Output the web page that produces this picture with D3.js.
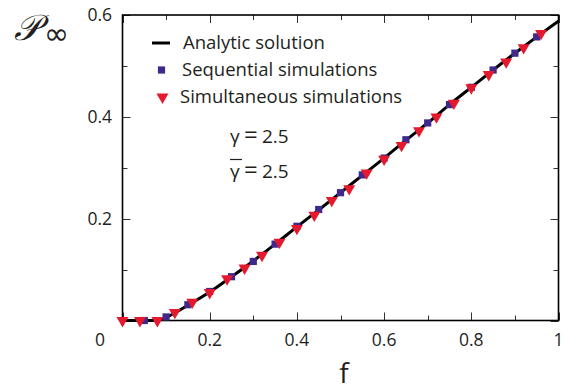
<!DOCTYPE html>
<html>
<head>
<meta charset="utf-8">
<script src="https://cdn.jsdelivr.net/npm/d3@7"></script>
<style>
  html, body { margin: 0; padding: 0; background: #fff; }
  svg { display: block; }
  text { font-family: "Open Sans", "Noto Sans", sans-serif; fill: #231f20; }
</style>
</head>
<body>
<svg id="chart" width="567" height="391"></svg>
<script>
// Analytic solution P_inf(f)
const analyticF = [0, 0.05, 0.08, 0.1, 0.15, 0.2, 0.25, 0.3, 0.35, 0.4, 0.45, 0.5, 0.55, 0.6, 0.65, 0.7, 0.75, 0.8, 0.85, 0.9, 0.95, 1.0];
const analyticP = [0, 0, 0, 0.006, 0.03, 0.056, 0.086, 0.117, 0.15, 0.184, 0.217, 0.251, 0.285, 0.319, 0.354, 0.388, 0.424, 0.458, 0.492, 0.525, 0.557, 0.588];

// Sequential simulations
const seqF = [0.05, 0.1, 0.15, 0.2, 0.25, 0.3, 0.35, 0.4, 0.45, 0.5, 0.55, 0.6, 0.65, 0.7, 0.75, 0.8, 0.85, 0.9, 0.95];
const seqP = [0, 0.007, 0.031, 0.057, 0.086, 0.116, 0.15, 0.185, 0.218, 0.251, 0.286, 0.319, 0.355, 0.388, 0.424, 0.458, 0.492, 0.525, 0.557];

// Simultaneous simulations
const simF = [0, 0.04, 0.08, 0.12, 0.16, 0.2, 0.24, 0.28, 0.32, 0.36, 0.4, 0.44, 0.48, 0.52, 0.56, 0.6, 0.64, 0.68, 0.72, 0.76, 0.8, 0.84, 0.88, 0.92, 0.96];
const simP = [0, 0, 0, 0.016, 0.036, 0.055, 0.082, 0.103, 0.128, 0.154, 0.181, 0.207, 0.236, 0.259, 0.29, 0.317, 0.344, 0.373, 0.4, 0.427, 0.457, 0.483, 0.508, 0.536, 0.564];

const xTickLabels = ["0.2", "0.4", "0.6", "0.8", "1"];
const yTickLabels = ["0.2", "0.4", "0.6"];
const legendLabels = ["Analytic solution", "Sequential simulations", "Simultaneous simulations"];

const svg = d3.select("#chart");
const x = d3.scaleLinear().domain([0, 1]).range([122.5, 558.5]);
const y = d3.scaleLinear().domain([0, 0.6]).range([320.5, 15]);

const seqColor = "#40298a";
const simColor = "#e5192e";

// Box ticks, all pointing inward
const majorX = d3.range(0, 1.0001, 0.2), minorX = d3.range(0.1, 1, 0.2);
const majorY = d3.range(0, 0.6001, 0.2), minorY = d3.range(0.1, 0.6, 0.2);
const tickG = svg.append("g").attr("stroke", "#333").attr("stroke-width", 1);
function xTicks(vals, len) {
  vals.forEach(v => {
    const px = Math.round(x(v)) + 0.5;
    tickG.append("line").attr("x1", px).attr("x2", px).attr("y1", y(0)).attr("y2", y(0) - len);
    tickG.append("line").attr("x1", px).attr("x2", px).attr("y1", y(0.6)).attr("y2", y(0.6) + len);
  });
}
function yTicks(vals, len) {
  vals.forEach(v => {
    const py = Math.round(y(v)) + 0.5;
    tickG.append("line").attr("y1", py).attr("y2", py).attr("x1", x(0)).attr("x2", x(0) + len);
    tickG.append("line").attr("y1", py).attr("y2", py).attr("x1", x(1)).attr("x2", x(1) - len);
  });
}
xTicks(majorX, 8); xTicks(minorX, 5);
yTicks(majorY, 8); yTicks(minorY, 5);

// Frame
svg.append("rect")
  .attr("x", x(0)).attr("y", y(0.6))
  .attr("width", x(1) - x(0)).attr("height", y(0) - y(0.6))
  .attr("fill", "none").attr("stroke", "#000").attr("stroke-width", 1.6);

// Tick labels
svg.append("g").selectAll("text").data(xTickLabels).join("text")
  .attr("x", d => x(+d)).attr("y", 346)
  .attr("text-anchor", "middle").attr("font-size", 17.5)
  .text(d => d);
svg.append("text").attr("x", 100).attr("y", 346).attr("text-anchor", "middle")
  .attr("font-size", 17.5).text("0");
svg.append("g").selectAll("text").data(yTickLabels).join("text")
  .attr("x", 112).attr("y", d => y(+d) + 6)
  .attr("text-anchor", "end").attr("font-size", 17.5)
  .text(d => d);

// Axis titles
svg.append("text").attr("x", 344).attr("y", 383).attr("text-anchor", "middle")
  .attr("font-size", 28).text("f");
const pLabel = svg.append("text").attr("x", 14).attr("y", 40)
  .attr("font-family", "DejaVu Serif").attr("font-style", "italic").attr("font-size", 36);
pLabel.append("tspan").text("𝒫");
pLabel.append("tspan").attr("x", 44).attr("dy", 4)
  .attr("font-family", "DejaVu Sans").attr("font-style", "normal").attr("font-size", 30).text("∞");

// Analytic curve
const line = d3.line().x(d => x(d[0])).y(d => y(d[1])).curve(d3.curveMonotoneX);
svg.append("path").datum(d3.zip(analyticF, analyticP))
  .attr("d", line).attr("fill", "none").attr("stroke", "#000").attr("stroke-width", 3);

// Markers
const sq = d3.symbol().type(d3.symbolSquare).size(52);
const tri = d3.symbol().type(d3.symbolTriangle).size(62);
svg.append("g").selectAll("path").data(d3.zip(seqF, seqP)).join("path")
  .attr("d", sq).attr("fill", seqColor)
  .attr("transform", d => `translate(${x(d[0])},${y(d[1])})`);
svg.append("g").selectAll("path").data(d3.zip(simF, simP)).join("path")
  .attr("d", tri).attr("fill", simColor)
  .attr("transform", d => `translate(${x(d[0])},${y(d[1])}) rotate(180)`);

// Legend
const lg = svg.append("g");
lg.append("line").attr("x1", 152).attr("x2", 170).attr("y1", 43).attr("y2", 43)
  .attr("stroke", "#000").attr("stroke-width", 3);
lg.append("path").attr("d", sq).attr("fill", seqColor).attr("transform", "translate(161.5,70)");
lg.append("path").attr("d", tri).attr("fill", simColor).attr("transform", "translate(162.5,97) rotate(180)");
lg.selectAll("text").data(legendLabels).join("text")
  .attr("x", (d, i) => [183, 182, 180][i]).attr("y", (d, i) => 43 + 27 * i + 6)
  .attr("font-size", 18.5).text(d => d);

// Parameter annotations
[143, 178].forEach(by => {
  const t = svg.append("text").attr("x", 230).attr("y", by).attr("font-size", 19);
  t.append("tspan").text("γ");
  t.append("tspan").attr("x", 244).attr("font-size", 24).text("=");
  t.append("tspan").attr("x", 262).text("2.5");
});
svg.append("line").attr("x1", 230).attr("x2", 242).attr("y1", 159.5).attr("y2", 159.5)
  .attr("stroke", "#231f20").attr("stroke-width", 1.2);
</script>
</body>
</html>
